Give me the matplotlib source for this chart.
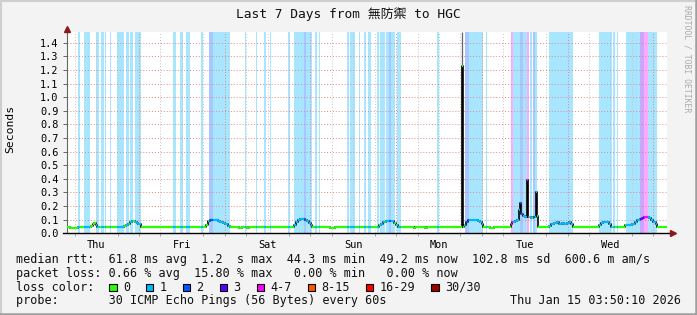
import matplotlib
matplotlib.use("Agg")
import matplotlib.pyplot as plt
import numpy as np
from matplotlib.patches import Rectangle
from matplotlib.lines import Line2D

W, H = 697, 315

# x axis: hours since Thu Jan 8 03:50 (7 days = 168 h)
day_names = ["Thu", "Fri", "Sat", "Sun", "Mon", "Tue", "Wed"]
first_midnight = 20.17
y_ticks = [0.0, 0.1, 0.2, 0.3, 0.4, 0.5, 0.6, 0.7, 0.8, 0.9, 1.0, 1.1, 1.2, 1.3, 1.4]

# median rtt (seconds), step values starting at med_t
med_t = [0.0, 0.8, 3.1, 6.7, 7.2, 7.6, 8.0, 8.4,
         16.0, 16.5, 17.0, 17.5, 18.2, 18.9, 19.5, 20.0, 20.6,
         39.0, 39.6, 40.1, 40.8, 41.5, 42.2, 42.9, 43.6, 44.3, 45.0, 45.5,
         48.2, 49.0, 50.4, 51.0,
         63.6, 64.1, 64.6, 65.1, 65.8, 66.5, 67.1, 67.7, 68.3, 68.7,
         73.6, 75.0,
         87.4, 87.9, 88.5, 89.2, 90.0, 90.8, 91.5, 92.0, 92.6,
         97.1, 97.4, 100.2, 100.8,
         110.4, 110.6, 110.9, 111.3, 111.7, 112.2, 112.8, 113.6, 114.4, 115.0, 115.6, 116.1, 116.6,
         118.4, 119.6,
         124.2, 124.7, 125.4, 126.0, 126.6, 126.8, 127.1, 127.7, 128.2, 128.8, 129.1, 129.9, 130.5, 131.2, 131.5, 131.9,
         135.0, 135.6, 136.3, 137.2, 137.8, 138.5, 139.2, 139.9, 140.5, 141.1, 141.7,
         148.9, 149.5, 150.2, 151.0, 151.7, 152.3,
         156.2, 156.8, 157.6, 158.3, 159.0, 159.7, 160.4, 161.0, 161.6, 162.4, 162.9, 163.5, 164.2, 164.8, 165.3,
         168.0]
med_v = [0.048, 0.040, 0.048, 0.055, 0.065, 0.078, 0.060, 0.048,
         0.052, 0.060, 0.070, 0.080, 0.088, 0.083, 0.075, 0.065, 0.048,
         0.060, 0.090, 0.100, 0.095, 0.098, 0.090, 0.085, 0.075, 0.065, 0.055, 0.048,
         0.040, 0.048, 0.040, 0.048,
         0.060, 0.080, 0.095, 0.103, 0.105, 0.100, 0.090, 0.075, 0.060, 0.048,
         0.040, 0.048,
         0.058, 0.070, 0.080, 0.088, 0.090, 0.090, 0.075, 0.062, 0.048,
         0.040, 0.048, 0.040, 0.048,
         0.048, 1.230, 0.048, 0.060, 0.085, 0.095, 0.100, 0.100, 0.098, 0.090, 0.080, 0.065, 0.048,
         0.040, 0.048,
         0.070, 0.085, 0.090, 0.100, 0.170, 0.220, 0.140, 0.130, 0.120, 0.390, 0.120, 0.110, 0.120, 0.300, 0.130, 0.048,
         0.055, 0.065, 0.075, 0.085, 0.070, 0.075, 0.065, 0.075, 0.085, 0.070, 0.048,
         0.060, 0.075, 0.085, 0.083, 0.070, 0.048,
         0.060, 0.058, 0.060, 0.070, 0.085, 0.095, 0.105, 0.115, 0.120, 0.120, 0.110, 0.095, 0.080, 0.065, 0.048,
         0.048]

# packet loss periods: start h, end h, loss class (1: 1, 2: 2, 3: 3, 4: 4-7)
loss_start = [3.1, 4.8, 6.9, 8.1, 9.5, 10.6, 12.0, 14.0, 16.5, 17.6, 19.0,
              29.7, 31.6, 33.3, 37.5, 39.8, 40.8, 49.8, 52.9, 55.2, 56.8,
              61.9, 63.6, 66.4, 66.9, 69.4, 70.5,
              78.4, 79.2, 81.7, 83.1, 84.4, 86.7, 87.6, 89.3, 90.1, 90.6, 92.3,
              103.6, 111.4, 112.6, 117.3,
              124.3, 125.0, 126.8, 127.8, 128.7, 129.6, 130.4, 131.0, 135.0,
              149.0, 152.9, 153.9, 156.5, 160.4, 161.6, 162.8]
loss_end = [3.5, 6.4, 7.1, 8.9, 10.3, 10.9, 12.3, 15.9, 17.3, 18.4, 20.6,
            30.5, 32.4, 34.4, 38.1, 40.8, 45.6, 50.1, 53.2, 55.7, 57.1,
            62.4, 66.4, 66.9, 68.6, 69.9, 70.8,
            79.0, 80.6, 82.0, 83.7, 85.0, 87.3, 89.0, 90.1, 90.6, 91.8, 93.4,
            104.1, 112.6, 116.6, 117.6,
            125.0, 126.8, 127.8, 128.7, 129.4, 130.1, 131.0, 131.7, 141.8,
            152.5, 153.4, 154.4, 160.4, 161.6, 162.8, 165.1]
loss_level = [1, 1, 1, 1, 1, 1, 1, 1, 1, 1, 1,
              1, 1, 1, 1, 2, 1, 1, 1, 1, 1,
              1, 1, 2, 1, 1, 1,
              1, 1, 1, 1, 1, 1, 1, 1, 2, 1, 1,
              1, 2, 1, 1,
              4, 1, 2, 1, 4, 1, 2, 1, 1,
              1, 1, 1, 1, 3, 4, 1]

loss_labels = ["0", "1", "2", "3", "4-7", "8-15", "16-29", "30/30"]
loss_colors = ["#26ff00", "#00b8ff", "#0059ff", "#5e00ff", "#ff00fe",
               "#ff5500", "#ff0000", "#a10000"]

spike_t = 110.7  # smoke above the plot top at the big spike

mono = ["DejaVu Sans Mono", "Noto Sans CJK TC"]

fig = plt.figure(figsize=(W / 100, H / 100), dpi=100)
fig.patch.set_facecolor("#f3f3f3")
ax = fig.add_axes([67 / W, (H - 233.3) / H, 600 / W, 201 / H])
ax.set_facecolor("white")
ax.set_xlim(0, 168)
ax.set_ylim(0, 1.477)

# loss background bars
for s, e, lv in zip(loss_start, loss_end, loss_level):
    ax.axvspan(s, e, color=loss_colors[lv], alpha=0.34, lw=0, zorder=1)

# grid
midnights = [first_midnight + 24 * k for k in range(7)]
minors = [m + d for m in [first_midnight - 24] + midnights for d in (6, 12, 18)]
minors = [m for m in minors if 0 < m < 168]
for m in minors:
    ax.axvline(m, color="#c4c4c4", lw=0.7, ls=(0, (1, 2)), zorder=2)
for m in midnights:
    ax.axvline(m, color="#dd8888", lw=0.7, ls=(0, (1, 2)), zorder=2)
for yv in y_ticks[1:]:
    ax.axhline(yv, color="#dd8888", lw=0.7, ls=(0, (1, 2)), zorder=2)

# smoke at the spike
ax.vlines(spike_t, 1.23, 1.477, color="#666666", lw=0.9, zorder=3)

# median line: black steps, then loss coloured flats on top
ax.step(med_t, med_v, where="post", color="black", lw=1.2, zorder=4)
edges = sorted(set(med_t) | set(loss_start) | set(loss_end))
mt = np.array(med_t)
for a, b in zip(edges[:-1], edges[1:]):
    v = med_v[np.searchsorted(mt, a, side="right") - 1]
    lv = 0
    for s, e, l in zip(loss_start, loss_end, loss_level):
        if s <= a < e:
            lv = l
    ax.hlines(v, a, b, color=loss_colors[lv], lw=1.6, zorder=5)

# axes styling
for sp in ["top", "right"]:
    ax.spines[sp].set_visible(False)
ax.spines["left"].set_color("#666666")
ax.spines["left"].set_linewidth(0.8)
ax.spines["bottom"].set_visible(False)
ax.plot([-4 / 600, 1 + 5 / 600], [0, 0], transform=ax.transAxes, color="black",
        lw=1.0, clip_on=False, zorder=6)
ax.plot([1 + 6 / 600], [0], marker=">", ms=5, color="#8b1a1a",
        transform=ax.transAxes, clip_on=False, zorder=7)
ax.plot([0], [1 + 3 / 201], marker="^", ms=5, color="#8b1a1a",
        transform=ax.transAxes, clip_on=False, zorder=7)

ax.set_yticks(y_ticks)
ax.set_yticklabels([f"{v:.1f}" for v in y_ticks], family="DejaVu Sans Mono", fontsize=7.4)
ax.tick_params(axis="y", length=3, width=0.7, color="#666666", pad=3)
noons = [m - 12 for m in midnights]
ax.set_xticks(noons)
ax.set_xticklabels(day_names, family="DejaVu Sans Mono", fontsize=7.4)
ax.tick_params(axis="x", length=0, pad=5)
ax.set_xticks(minors + midnights, minor=True)
ax.tick_params(axis="x", which="minor", length=2, width=0.6, color="#999999")
ax.set_ylabel("Seconds", family="DejaVu Sans Mono", fontsize=8.2)
ax.yaxis.set_label_coords(-52 / 600, 0.52)

# title and side text
fig.text(348 / W, 1 - 14 / H, "Last 7 Days from 無防禦 to HGC", ha="center", va="center",
         family=mono, fontsize=9.3, color="#111111")
fig.text(687.5 / W, 1 - 59 / H, "RRDTOOL / TOBI OETIKER", ha="center", va="center",
         rotation=270, family="DejaVu Sans Mono", fontsize=5.9, color="#aaaaaa")

# legend rows
lfs = 8.5
x0 = 15.5 / W
rows = [
    (260, "median rtt:  61.8 ms avg  1.2  s max  44.3 ms min  49.2 ms now  102.8 ms sd  600.6 m am/s"),
    (273.3, "packet loss: 0.66 % avg  15.80 % max   0.00 % min   0.00 % now"),
    (300.7, "probe:       30 ICMP Echo Pings (56 Bytes) every 60s"),
]
for yy, txt in rows:
    fig.text(x0, 1 - yy / H, txt, ha="left", va="center", family=mono, fontsize=lfs, color="#111111")
fig.text(x0, 1 - 287.3 / H, "loss color:", ha="left", va="center", family=mono, fontsize=lfs, color="#111111")
fig.text(680.5 / W, 1 - 300.7 / H, "Thu Jan 15 03:50:10 2026", ha="right", va="center",
         family=mono, fontsize=lfs, color="#111111")

xs = 109.0
for lab, col in zip(loss_labels, loss_colors):
    fig.add_artist(Rectangle((xs / W, 1 - 291 / H), 7.5 / W, 7.5 / H, transform=fig.transFigure,
                             facecolor=col, edgecolor="black", lw=0.8))
    fig.text((xs + 13.8) / W, 1 - 287.3 / H, lab, ha="left", va="center", family=mono,
             fontsize=lfs, color="#111111")
    xs += 14.5 + len(lab) * 7.1 + 15.3

# bevelled frame
fig.add_artist(Line2D([0, 1], [1 - 1 / H, 1 - 1 / H], transform=fig.transFigure, color="#cfcfcf", lw=1.5))
fig.add_artist(Line2D([1 / W, 1 / W], [0, 1], transform=fig.transFigure, color="#cfcfcf", lw=1.5))
fig.add_artist(Line2D([0, 1], [1 / H, 1 / H], transform=fig.transFigure, color="#9f9f9f", lw=1.8))
fig.add_artist(Line2D([1 - 1 / W, 1 - 1 / W], [0, 1], transform=fig.transFigure, color="#9f9f9f", lw=1.8))

fig.savefig("out.png", dpi=100, facecolor=fig.get_facecolor())
